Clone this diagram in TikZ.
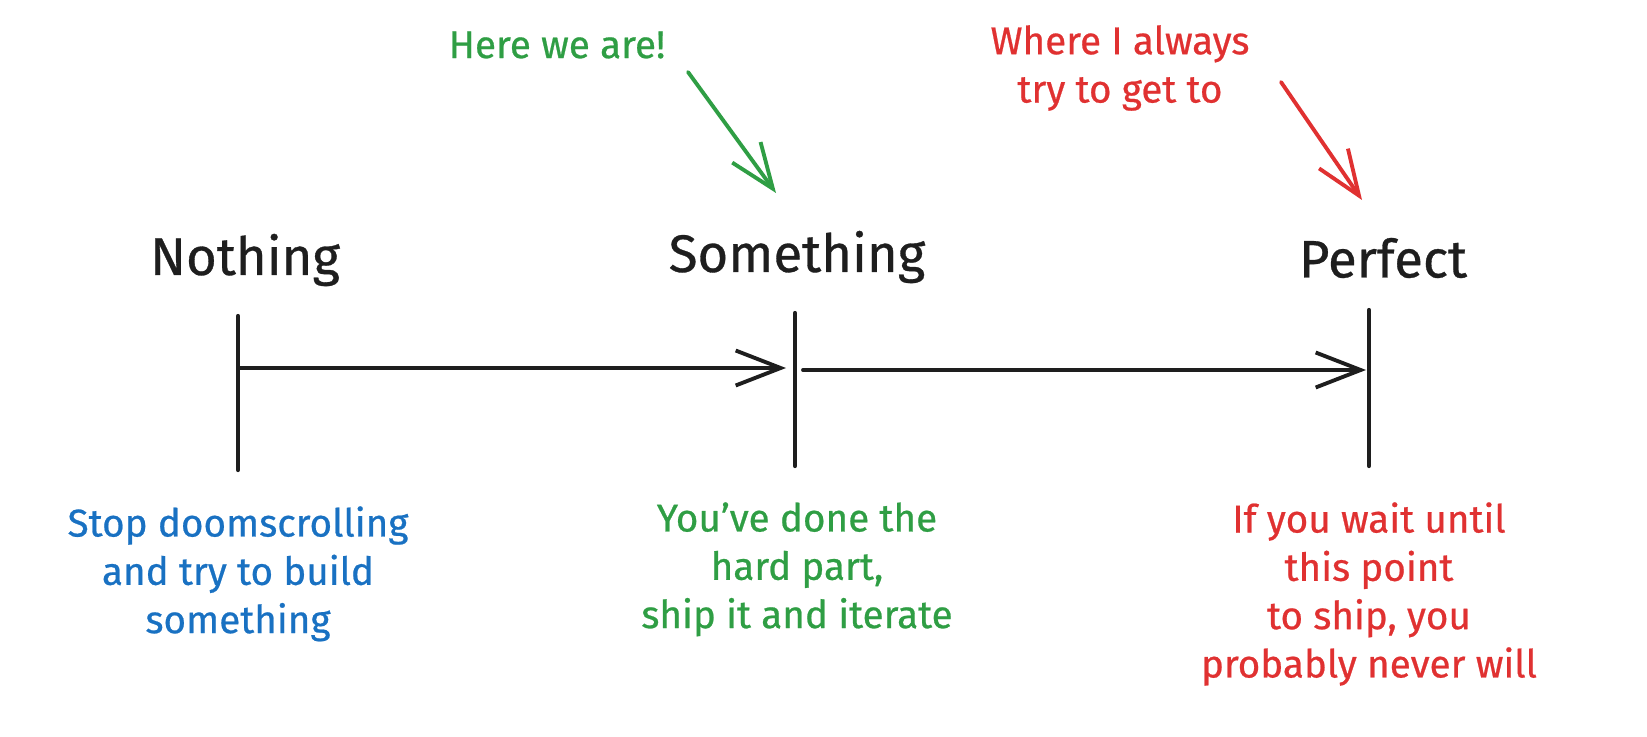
\documentclass[tikz,border=0pt]{standalone}
\usepackage{fontspec}
\setmainfont{Fira Sans}
\newfontfamily\sketchfont{Fira Sans}[FakeBold=0.6]
\usetikzlibrary{positioning, arrows.meta}

\definecolor{inkblack}{HTML}{1E1E1E}
\definecolor{inkblue}{HTML}{1971C2}
\definecolor{inkgreen}{HTML}{2F9E44}
\definecolor{inkred}{HTML}{E03131}

\begin{document}
\begin{tikzpicture}[
                x=0.02cm, y=-0.02cm,
                tick/.style={draw=inkblack, line width=2.4pt, line cap=round},
                arrow/.style={-{Straight Barb[length=0.9cm, width=0.7cm, line width=2.2pt]}, line width=2.2pt, line cap=round},
                title/.style={font=\sketchfont\fontsize{30}{36}\selectfont, text=inkblack, inner sep=0pt},
                note/.style={font=\sketchfont\fontsize{22}{27.5}\selectfont, align=center, inner sep=0pt}
            ]
                % Ticks on the line
                \coordinate (nothingtop) at (238,316);
                \coordinate (nothingbot) at (238,470);
                \coordinate (somethingtop) at (795,313);
                \coordinate (somethingbot) at (795,466);
                \coordinate (perfecttop) at (1369,310);
                \coordinate (perfectbot) at (1369,466);
                \draw[tick] (nothingtop) -- (nothingbot);
                \draw[tick] (somethingtop) -- (somethingbot);
                \draw[tick] (perfecttop) -- (perfectbot);

                % Stage names
                \node[title] (nothing) at (245,260) {Nothing};
                \node[title] (something) at (797,257) {Something};
                \node[title] (perfect) at (1383,258) {Perfect};

                % Arrows between the stages
                \coordinate (nothingmid) at (240,368);
                \coordinate (somethingin) at (786,368);
                \coordinate (somethingout) at (803,370);
                \coordinate (perfectin) at (1366,370);
                \draw[arrow, draw=inkblack] (nothingmid) -- (somethingin);
                \draw[arrow, draw=inkblack] (somethingout) -- (perfectin);

                % Notes under the line
                \node[note, text=inkblue, below=0.72cm of nothingbot] (nothingnote) {Stop doomscrolling\\and try to build\\something};
                \node[note, text=inkgreen, below=0.72cm of somethingbot, xshift=0.04cm] (somethingnote) {You’ve done the\\hard part,\\ship it and iterate};
                \node[note, text=inkred, below=0.72cm of perfectbot] (perfectnote) {If you wait until\\this point\\to ship, you\\probably never will};

                % Pointers from above
                \node[note, text=inkgreen] (herewe) at (557,45) {Here we are!};
                \node[note, text=inkred] (where) at (1120,68) {Where I always\\try to get to};
                \coordinate (greenstart) at (688,72);
                \coordinate (greenend) at (776,193);
                \coordinate (redstart) at (1281,82);
                \coordinate (redend) at (1362,200);
                \draw[arrow, draw=inkgreen] (greenstart) -- (greenend);
                \draw[arrow, draw=inkred] (redstart) -- (redend);

                % Fixed frame
                \pgfresetboundingbox
                \useasboundingbox (0,0) rectangle (1647,737);
            \end{tikzpicture}
\end{document}
